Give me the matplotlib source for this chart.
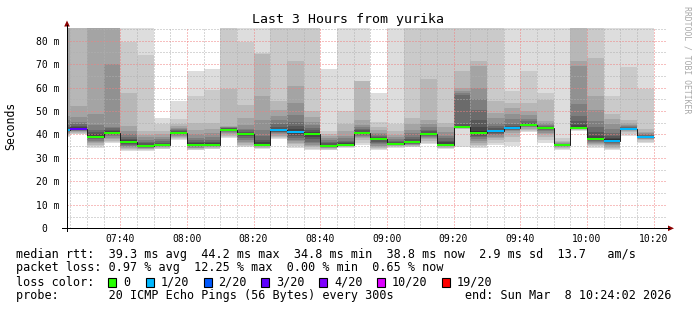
import matplotlib
matplotlib.use("Agg")
import matplotlib.pyplot as plt
import numpy as np
from matplotlib.lines import Line2D
from matplotlib.patches import Polygon, Rectangle

# ---------------- data ----------------
slot_start = "07:20"          # first 5-minute slot start (partially visible)
slot_minutes = 5
median_ms = [41.8, 42.4, 39.1, 40.7, 36.7, 34.9, 35.5, 40.6, 35.7, 35.7, 42.0, 40.3,
             35.5, 41.7, 40.9, 40.1, 35.0, 35.7, 40.7, 38.2, 35.8, 36.6, 40.3, 35.7,
             43.1, 40.7, 41.4, 42.6, 44.1, 42.7, 35.5, 42.7, 38.0, 37.4, 42.3, 39.0]
loss_count = [1, 3, 0, 0, 0, 0, 0, 0, 0, 0, 0, 0,
              0, 1, 1, 0, 0, 0, 0, 0, 0, 0, 0, 0,
              0, 0, 1, 1, 0, 0, 0, 0, 0, 1, 1, 1]
# sorted pings 1..10 (lower half) per slot, ms
ping_low = [
    [39.0, 39.5, 40.0, 40.4, 40.8, 41.1, 41.3, 41.5, 41.6, 41.7],
    [40.0, 40.3, 40.6, 41.0, 41.3, 41.6, 41.9, 42.1, 42.2, 42.3],
    [34.3, 35.0, 35.5, 36.2, 36.8, 37.4, 38.0, 38.5, 38.8, 39.0],
    [36.5, 37.0, 37.4, 38.0, 38.6, 39.2, 39.7, 40.1, 40.4, 40.6],
    [33.1, 33.5, 33.8, 34.2, 34.7, 35.2, 35.7, 36.1, 36.4, 36.6],
    [33.0, 33.3, 33.6, 33.9, 34.2, 34.4, 34.6, 34.7, 34.8, 34.9],
    [33.6, 33.9, 34.2, 34.5, 34.8, 35.0, 35.2, 35.3, 35.4, 35.5],
    [37.5, 38.0, 38.5, 39.0, 39.4, 39.8, 40.1, 40.3, 40.5, 40.6],
    [33.2, 33.5, 33.8, 34.1, 34.4, 34.7, 35.0, 35.2, 35.4, 35.6],
    [33.6, 33.9, 34.2, 34.5, 34.8, 35.0, 35.2, 35.4, 35.5, 35.6],
    [38.5, 39.0, 39.5, 40.0, 40.5, 41.0, 41.3, 41.6, 41.8, 41.9],
    [34.5, 35.0, 35.5, 36.2, 37.0, 37.8, 38.5, 39.2, 39.8, 40.1],
    [33.8, 34.1, 34.4, 34.7, 34.9, 35.1, 35.2, 35.3, 35.4, 35.5],
    [38.0, 38.5, 39.0, 39.5, 40.0, 40.5, 41.0, 41.2, 41.4, 41.6],
    [34.3, 35.0, 35.8, 36.5, 37.2, 37.8, 38.5, 39.3, 40.0, 40.6],
    [33.5, 34.0, 34.5, 35.0, 35.6, 36.3, 37.0, 38.0, 39.0, 39.8],
    [33.2, 33.5, 33.8, 34.1, 34.4, 34.6, 34.7, 34.8, 34.9, 35.0],
    [34.2, 34.5, 34.8, 35.0, 35.2, 35.3, 35.4, 35.5, 35.6, 35.7],
    [35.5, 36.5, 37.5, 38.3, 39.0, 39.5, 39.9, 40.2, 40.4, 40.6],
    [33.4, 33.8, 34.3, 34.8, 35.3, 35.8, 36.4, 37.0, 37.6, 38.0],
    [34.4, 34.7, 35.0, 35.2, 35.4, 35.5, 35.6, 35.7, 35.7, 35.8],
    [34.5, 34.8, 35.1, 35.4, 35.7, 35.9, 36.1, 36.3, 36.4, 36.5],
    [35.8, 36.5, 37.3, 38.0, 38.6, 39.1, 39.5, 39.8, 40.0, 40.2],
    [33.8, 34.1, 34.4, 34.7, 35.0, 35.2, 35.3, 35.4, 35.5, 35.6],
    [34.6, 42.3, 42.5, 42.6, 42.7, 42.8, 42.9, 43.0, 43.0, 43.1],
    [34.3, 35.0, 35.7, 36.5, 37.3, 38.0, 38.8, 39.5, 40.0, 40.4],
    [35.5, 36.5, 37.5, 38.3, 39.0, 39.7, 40.3, 40.8, 41.1, 41.3],
    [35.0, 37.0, 39.0, 40.5, 41.3, 41.8, 42.1, 42.3, 42.4, 42.5],
    [40.9, 41.5, 42.0, 42.5, 43.0, 43.3, 43.6, 43.8, 43.9, 44.0],
    [36.5, 37.8, 39.0, 40.0, 40.8, 41.4, 41.9, 42.2, 42.4, 42.6],
    [33.2, 33.7, 34.1, 34.5, 34.8, 35.0, 35.2, 35.3, 35.4, 35.5],
    [41.3, 41.8, 42.0, 42.2, 42.3, 42.4, 42.5, 42.6, 42.6, 42.7],
    [34.4, 34.9, 35.4, 35.9, 36.4, 36.8, 37.2, 37.5, 37.7, 37.9],
    [33.3, 33.8, 34.3, 34.8, 35.4, 35.9, 36.4, 36.8, 37.1, 37.3],
    [39.3, 40.3, 41.0, 41.5, 41.8, 42.0, 42.1, 42.2, 42.2, 42.3],
    [36.5, 37.0, 37.5, 37.9, 38.2, 38.5, 38.7, 38.8, 38.9, 39.0],
]
# sorted pings 11..20 (upper half) per slot, ms (values above the scale run off the top)
ping_high = [
    [42.0, 42.5, 43.0, 44.0, 46.0, 48.0, 90, 90, 90, 90],
    [42.6, 43.0, 43.6, 44.3, 45.5, 47.5, 52.0, 90, 90, 90],
    [39.5, 40.0, 41.0, 42.0, 44.0, 48.8, 90, 90, 90, 90],
    [41.0, 41.5, 42.0, 42.6, 43.4, 70.1, 90, 90, 90, 90],
    [37.0, 37.5, 38.0, 39.0, 40.0, 41.5, 43.5, 57.6, 79.4, 90],
    [35.2, 35.6, 36.2, 36.9, 37.8, 38.8, 39.8, 41.5, 73.7, 90],
    [35.7, 36.0, 36.5, 37.2, 38.0, 39.0, 40.0, 41.5, 44.5, 47.0],
    [40.8, 41.0, 41.3, 41.7, 42.2, 42.8, 43.5, 44.5, 46.5, 54.3],
    [36.0, 36.3, 36.8, 37.5, 38.5, 40.0, 42.0, 45.0, 56.2, 67.2],
    [36.0, 36.4, 37.0, 37.8, 39.0, 40.5, 42.5, 45.0, 59.0, 68.0],
    [42.2, 42.4, 42.6, 42.8, 43.1, 43.4, 43.8, 59.4, 90, 90],
    [40.5, 40.8, 41.2, 41.8, 42.5, 44.0, 47.0, 52.5, 79.3, 90],
    [35.9, 36.6, 37.8, 39.5, 42.0, 46.0, 56.6, 74.5, 74.8, 90],
    [42.0, 42.5, 43.3, 44.5, 46.0, 48.0, 50.5, 54.3, 90, 90],
    [41.4, 42.2, 43.5, 45.5, 48.5, 53.6, 60.8, 71.2, 90, 90],
    [40.5, 41.0, 41.8, 42.8, 44.0, 45.5, 47.5, 50.0, 90, 90],
    [35.3, 35.7, 36.2, 36.8, 37.5, 38.3, 39.3, 40.3, 41.5, 67.8],
    [36.0, 36.3, 36.8, 37.4, 38.3, 39.5, 41.5, 44.5, 50.0, 90],
    [40.9, 41.2, 41.7, 42.2, 43.0, 44.0, 46.0, 62.6, 62.8, 90],
    [38.4, 38.7, 39.0, 39.5, 40.0, 40.8, 41.8, 43.0, 45.3, 57.6],
    [36.0, 36.2, 36.6, 37.2, 38.0, 38.8, 39.8, 41.5, 44.5, 90],
    [36.9, 37.3, 38.0, 39.0, 40.5, 42.0, 44.5, 47.2, 90, 90],
    [40.5, 40.8, 41.3, 42.0, 43.0, 44.5, 46.3, 63.5, 90, 90],
    [36.1, 36.6, 37.3, 38.3, 39.5, 41.0, 43.0, 45.0, 90, 90],
    [43.4, 43.8, 44.5, 57.0, 57.5, 58.5, 59.9, 67.0, 90, 90],
    [41.5, 43.0, 46.0, 50.5, 55.0, 60.0, 69.0, 71.2, 90, 90],
    [41.7, 42.1, 42.8, 43.8, 45.0, 47.0, 49.3, 54.2, 90, 90],
    [42.8, 43.0, 43.5, 44.5, 46.5, 48.7, 51.5, 53.5, 58.4, 90],
    [44.3, 44.6, 45.0, 45.8, 46.8, 48.2, 50.0, 53.6, 67.1, 90],
    [42.8, 43.0, 43.3, 43.6, 44.0, 44.7, 45.7, 54.5, 57.6, 90],
    [35.55, 35.6, 35.7, 35.9, 36.1, 36.4, 36.8, 37.4, 38.6, 90],
    [43.2, 44.0, 45.7, 48.0, 52.8, 69.0, 71.2, 90, 90, 90],
    [38.6, 39.5, 41.0, 43.0, 45.7, 50.5, 56.4, 72.5, 90, 90],
    [37.9, 38.5, 39.3, 40.5, 42.5, 44.5, 46.5, 48.6, 56.3, 90],
    [42.4, 42.6, 42.8, 43.1, 43.5, 44.0, 44.8, 46.0, 68.6, 90],
    [39.1, 39.2, 39.4, 39.7, 40.0, 40.5, 41.2, 42.4, 59.3, 90],
]
loss_levels = [0, 1, 2, 3, 4, 10, 19]
loss_labels = ["0", "1/20", "2/20", "3/20", "4/20", "10/20", "19/20"]
loss_colors = ["#26ff00", "#00b8ff", "#0059ff", "#5e00ff", "#7e00ff", "#dd00ff", "#ff0000"]
xtick_labels = ["07:40", "08:00", "08:20", "08:40", "09:00", "09:20", "09:40", "10:00", "10:20"]
ytick_values = [0, 10, 20, 30, 40, 50, 60, 70, 80]
ytick_labels = ["0  ", "10 m", "20 m", "30 m", "40 m", "50 m", "60 m", "70 m", "80 m"]
title = "Last 3 Hours from yurika"
legend_rows = [
    "median rtt:  39.3 ms avg  44.2 ms max  34.8 ms min  38.8 ms now  2.9 ms sd  13.7   am/s",
    "packet loss: 0.97 % avg  12.25 % max  0.00 % min  0.65 % now",
    "loss color:",
    "probe:       20 ICMP Echo Pings (56 Bytes) every 300s          end: Sun Mar  8 10:24:02 2026",
]

# ---------------- figure ----------------
W, H = 697, 310
MONO = "DejaVu Sans Mono"
fig = plt.figure(figsize=(W / 100, H / 100), dpi=100)
fig.patch.set_facecolor("white")

PX0, PX1, PY0, PY1 = 67, 667, 228.3, 28.0
ax = fig.add_axes([PX0 / W, 1 - PY0 / H, (PX1 - PX0) / W, (PY0 - PY1) / H])
ax.set_facecolor("white")
for s in ax.spines.values():
    s.set_visible(False)

def hm(s):
    h, m = s.split(":")
    return int(h) * 60 + int(m)

t_end_view = hm("10:24") + 2 / 60
t_start_view = t_end_view - 180
ymax = 85.4
ax.set_xlim(t_start_view, t_end_view)
ax.set_ylim(0, ymax)

n = len(median_ms)
lefts = hm(slot_start) + slot_minutes * np.arange(n)
low = np.array(ping_low, float)
high = np.array(ping_high, float)
pings = np.concatenate([low, high], axis=1)
cp = np.where(pings < ymax, pings, ymax)

# smoke layers: pair (k, 21-k), outer light -> inner dark
half = 10
for k in range(1, half + 1):
    g = int(190 / half * (half - k)) + 50
    col = "#%02x%02x%02x" % (g, g, g)
    bot = cp[:, k - 1]
    top = cp[:, 20 - k]
    ax.bar(lefts, top - bot, bottom=bot, width=slot_minutes, align="edge",
           color=col, linewidth=0, zorder=1)

# grid
lw = 0.72
minor_y = [v for v in np.arange(5, ymax, 5) if v % 10 != 0]
major_y = [v for v in np.arange(10, ymax, 10)]
xt = [hm(s) for s in xtick_labels]
minor_x = [t for t in np.arange(hm("07:25"), t_end_view, 5) if t not in xt]
for v in minor_y:
    ax.axhline(v, color="#b0b0b0", lw=lw, dashes=(1, 2), zorder=2)
for t in minor_x:
    ax.axvline(t, color="#b0b0b0", lw=lw, dashes=(1, 2), zorder=2)
for v in major_y:
    ax.axhline(v, color="#f08080", lw=lw, dashes=(1, 2), zorder=2.1)
for t in xt:
    ax.axvline(t, color="#f08080", lw=lw, dashes=(1, 2), zorder=2.1)

# median line (step) and loss-coloured band
edges = np.append(lefts, lefts[-1] + slot_minutes)
ax.stairs(median_ms, edges, baseline=None, color="#202020", lw=lw, zorder=3)
sw = ymax / (PY0 - PY1)

def loss_color(l):
    for lev, c in zip(loss_levels, loss_colors):
        if l <= lev:
            return c
    return loss_colors[-1]

cols = [loss_color(l) for l in loss_count]
med = np.array(median_ms)
ax.bar(lefts, 2 * sw, bottom=med - sw, width=slot_minutes, align="edge",
       color=cols, linewidth=0, zorder=4)

# ticks
ax.set_xticks(xt, xtick_labels)
ax.set_yticks(ytick_values, ytick_labels)
ax.tick_params(axis="x", length=0, pad=4.0, labelsize=7.05)
ax.tick_params(axis="y", length=0, pad=5.2, labelsize=7.05)
for lab in ax.get_xticklabels() + ax.get_yticklabels():
    lab.set_fontfamily(MONO)

# axes lines and arrows (figure pixel coords)
def fx(x):
    return x / W

def fy(y):
    return 1 - y / H

fig.add_artist(Line2D([fx(62), fx(669)], [fy(PY0), fy(PY0)], color="black", lw=lw))
fig.add_artist(Line2D([fx(PX0), fx(PX0)], [fy(230.5), fy(25)], color="black", lw=lw))
arrow_col = "#8b0000"
fig.add_artist(Polygon([[fx(64.2), fy(26.5)], [fx(69.8), fy(26.5)], [fx(67), fy(20.5)]],
                       closed=True, color=arrow_col, transform=fig.transFigure, lw=0))
fig.add_artist(Polygon([[fx(668), fy(225.5)], [fx(668), fy(231.1)], [fx(674), fy(PY0)]],
                       closed=True, color=arrow_col, transform=fig.transFigure, lw=0))

# title, axis label, watermark
fig.text(fx(348), fy(19.5), title, ha="center", va="center", family=MONO, fontsize=9.5)
fig.text(fx(11), fy(126), "Seconds", rotation=90, ha="center", va="center",
         family=MONO, fontsize=8.3)
fig.text(fx(687.5), fy(60), "RRDTOOL / TOBI OETIKER", rotation=270, ha="center",
         va="center", family=MONO, fontsize=5.9, color="#a8a8a8")

# legend
ly = [254.7, 268.0, 282.3, 296.0]
for txt, y in zip(legend_rows, ly):
    fig.text(fx(16), fy(y), txt, ha="left", va="center", family=MONO, fontsize=8.45)
box_x = [108.4, 145.8, 203.6, 261.0, 319.0, 377.0, 442.0]
for bx, c, lab in zip(box_x, loss_colors, loss_labels):
    fig.add_artist(Rectangle((fx(bx), fy(ly[2] + 4.5)), 8 / W, 9 / H, facecolor=c,
                             edgecolor="black", lw=0.8, transform=fig.transFigure))
    fig.text(fx(bx + 15), fy(ly[2]), lab, ha="left", va="center", family=MONO, fontsize=8.45)

fig.savefig("out.png", dpi=100, facecolor="white")
